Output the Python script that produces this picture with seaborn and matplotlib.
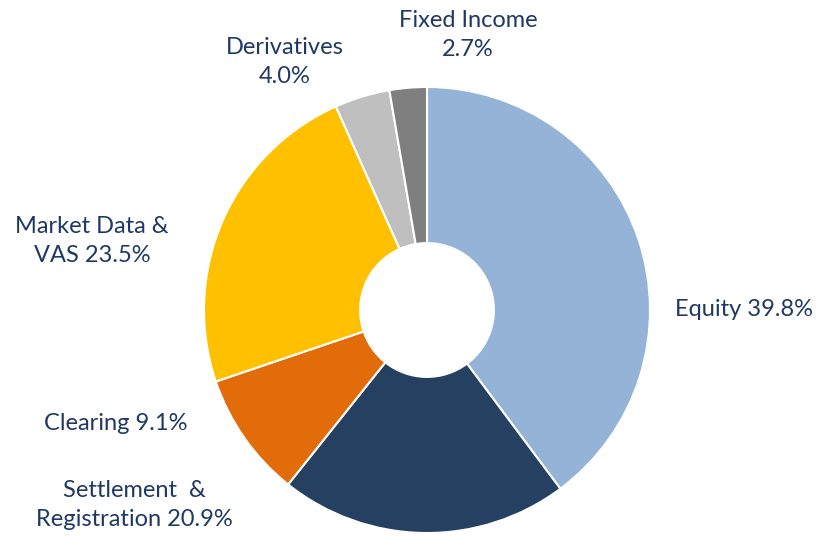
import matplotlib
matplotlib.use('Agg')
import matplotlib.pyplot as plt
import seaborn as sns

segments = ['Equity', 'Settlement & Registration', 'Clearing', 'Market Data & VAS', 'Derivatives', 'Fixed Income']
shares = [39.8, 20.9, 9.1, 23.5, 4.0, 2.7]
label_texts = ['Equity 39.8%', 'Settlement  &\nRegistration 20.9%', 'Clearing 9.1%',
               'Market Data &\nVAS 23.5%', 'Derivatives\n4.0%', 'Fixed Income\n2.7%']
colors = ['#95B3D7', '#254061', '#E36C0A', '#FFC000', '#BFBFBF', '#7F7F7F']

sns.set_style('white')
plt.rcParams['font.family'] = ['Lato', 'DejaVu Sans']

W, H = 819, 536
fig = plt.figure(figsize=(W / 100, H / 100), dpi=100)
ax = fig.add_axes([0, 0, 1, 1])

cx, cy, r = 427, H - 310, 223
ax.pie(shares, colors=colors, startangle=90, counterclock=False,
       center=(cx, cy), radius=r, frame=True,
       wedgeprops=dict(width=r * 0.7, edgecolor='white', linewidth=1.5))
ax.set_xlim(0, W)
ax.set_ylim(0, H)
ax.set_aspect('equal')
ax.axis('off')

# label placement in pixel coordinates (x, y from top)
label_pos = [(744, 310), (134, 505), (116, 423),
             (92, 241), (285, 62), (468, 35)]
for txt, (x, y) in zip(label_texts, label_pos):
    ax.text(x, H - y, txt, ha='center', va='center', fontsize=17, color='#1F3864',
            linespacing=1.5)

fig.savefig('out.png', dpi=100)
